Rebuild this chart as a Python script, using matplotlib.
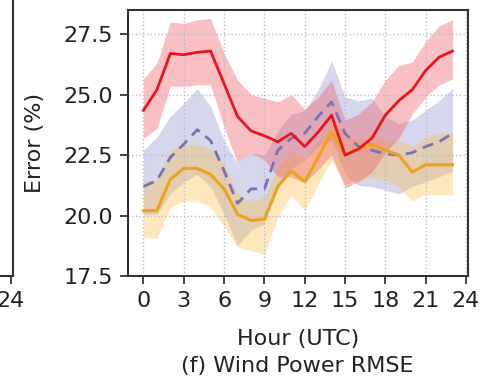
import numpy as np
import matplotlib
matplotlib.use('Agg')
import matplotlib.pyplot as plt

hours = np.arange(24)

# red model
red_mean = [24.35, 25.2, 26.7, 26.65, 26.75, 26.8, 25.45, 24.1, 23.5, 23.3, 23.05, 23.4,
            22.85, 23.45, 24.15, 22.5, 22.75, 23.2, 24.15, 24.75, 25.2, 26.0, 26.55, 26.8]
red_hi = [25.65, 26.3, 28.0, 27.95, 28.1, 28.15, 26.7, 25.6, 25.0, 24.85, 24.7, 25.0,
          24.4, 24.9, 25.6, 23.95, 24.2, 24.7, 25.6, 26.2, 26.35, 27.2, 27.85, 28.1]
red_lo = [23.2, 23.6, 25.35, 25.35, 25.4, 25.4, 23.65, 22.15, 22.6, 22.3, 21.6, 21.6,
          21.35, 21.9, 22.5, 21.15, 21.4, 21.8, 22.6, 23.2, 24.2, 24.9, 25.4, 25.65]

# blue/purple model (dashed)
blue_mean = [21.2, 21.45, 22.4, 22.95, 23.55, 23.1, 21.85, 20.5, 21.1, 21.1, 22.7, 23.2,
             23.4, 24.1, 24.7, 23.4, 22.85, 22.7, 22.55, 22.5, 22.6, 22.85, 23.05, 23.4]
blue_hi = [22.7, 23.25, 24.1, 24.65, 25.25, 24.5, 23.1, 22.15, 22.6, 22.5, 23.5, 24.2,
           24.35, 25.2, 26.4, 24.9, 24.75, 24.85, 24.1, 23.8, 23.95, 24.35, 24.75, 25.25]
blue_lo = [20.05, 20.05, 20.9, 21.4, 21.7, 21.2, 20.05, 18.75, 19.4, 19.65, 21.2, 21.95,
           22.3, 22.85, 23.1, 21.7, 21.25, 21.2, 21.05, 20.9, 21.2, 21.4, 21.6, 21.85]

# orange model
orange_mean = [20.2, 20.2, 21.5, 21.95, 21.95, 21.7, 21.1, 20.05, 19.8, 19.85, 21.2, 21.85,
               21.4, 22.4, 23.45, 22.5, 22.75, 22.95, 22.7, 22.5, 21.8, 22.1, 22.1, 22.1]
orange_hi = [21.45, 21.45, 22.7, 22.95, 22.95, 22.75, 22.15, 20.9, 20.6, 20.75, 22.0, 22.7,
             22.4, 23.1, 24.15, 23.4, 23.1, 23.4, 23.1, 23.1, 22.85, 23.25, 23.4, 23.4]
orange_lo = [19.1, 19.05, 20.35, 20.6, 20.6, 20.35, 19.55, 18.7, 18.55, 18.4, 19.95, 20.85,
             20.2, 21.3, 22.3, 21.3, 21.45, 21.6, 21.45, 21.2, 20.6, 20.9, 20.85, 20.85]

xticks = [0, 3, 6, 9, 12, 15, 18, 21, 24]
yticks = [17.5, 20.0, 22.5, 25.0, 27.5]

fs = 16
fig = plt.figure(figsize=(4.85, 3.84), dpi=100)

# piece of the neighbouring panel on the left
axl = fig.add_axes([(13 - 340) / 485, 1 - 276 / 384, 340 / 485, 300 / 384])
axl.set_xlim(-1.15, 24.15)
axl.set_ylim(17.5, 28.5)
axl.set_xticks([24])
axl.set_yticks([])
axl.tick_params(labelsize=fs, length=6, width=1.2, pad=5, colors='#222222')
for s in axl.spines.values():
    s.set_linewidth(1.5)
    s.set_color('#333333')
axl.spines['top'].set_visible(False)

ax = fig.add_axes([128 / 485, 1 - 276 / 384, 340 / 485, 266 / 384])

ax.fill_between(hours, blue_lo, blue_hi, color='#8080c8', alpha=0.32, lw=0)
ax.plot(hours, blue_mean, color='#7a73b0', lw=2.0, ls=(0, (4, 2.5)))
ax.fill_between(hours, orange_lo, orange_hi, color='#fbbf45', alpha=0.36, lw=0)
ax.plot(hours, orange_mean, color='#eea21c', lw=2.2)
ax.fill_between(hours, red_lo, red_hi, color='#f05a64', alpha=0.38, lw=0)
ax.plot(hours, red_mean, color='#e8141e', lw=2.0)

ax.set_xlim(-1.15, 24.15)
ax.set_ylim(17.5, 28.5)
ax.set_xticks(xticks)
ax.set_yticks(yticks)
ax.set_yticklabels(['%.1f' % v for v in yticks])
ax.grid(True, ls=':', color='#b8bccc', lw=1.0)
ax.tick_params(labelsize=fs, length=6, width=1.2, colors='#222222')
ax.tick_params(axis='x', pad=5)
ax.tick_params(axis='y', pad=5)
for s in ax.spines.values():
    s.set_linewidth(1.5)
    s.set_color('#333333')

ax.set_xlabel('Hour (UTC)', fontsize=fs, color='#222222')
ax.set_ylabel('Error (%)', fontsize=fs, color='#222222')
ax.yaxis.set_label_coords(-0.245, 0.5)
ax.xaxis.set_label_coords(0.5, -0.198)

fig.text(297 / 485, 1 - 366 / 384, '(f) Wind Power RMSE', fontsize=fs,
         ha='center', va='center', color='#222222')

fig.savefig('out.png', dpi=100)
